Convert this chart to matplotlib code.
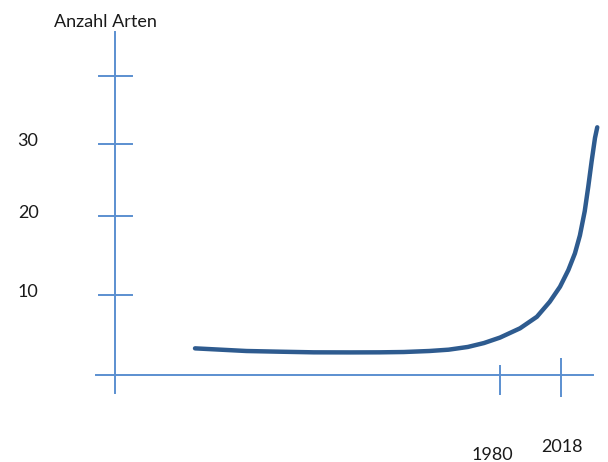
import matplotlib.pyplot as plt

# curve (year, number of species)
years = [1790, 1822, 1843, 1864, 1887, 1905, 1920, 1936, 1948, 1960, 1970, 1980, 1992.5, 2003,
         2011, 2017.4, 2022.6, 2026.7, 2029.8, 2032.8, 2035, 2037.1, 2039.2, 2040.6]
species = [3.42, 3.08, 2.99, 2.91, 2.9, 2.91, 2.95, 3.08, 3.25, 3.6, 4.1, 4.8, 5.99, 7.47,
           9.39, 11.32, 13.46, 15.6, 17.9, 21.0, 24.14, 27.4, 30.4, 31.76]

y_ticks = [10.3, 20.4, 29.6, 38.3]
y_labels = ["10", "20", "30", ""]
x_ticks = [1980, 2018]
x_labels = ["1980", "2018"]

axis_color = "#5b8fd0"
line_color = "#2e5b8f"
text_color = "#1a1a1a"
plt.rcParams["font.family"] = ["Lato", "DejaVu Sans"]

fig = plt.figure(figsize=(6.08, 4.62), dpi=100)
ax = fig.add_axes([0, 0, 1, 1])
ax.set_xlim(1668.5, 2047.3)
ax.set_ylim(-11.15, 48.08)
ax.axis("off")

# hand-drawn style axes
ax.plot([1728, 2038], [0, 0], color=axis_color, lw=1.4)
ax.plot([1740, 1740], [-2.3, 44], color=axis_color, lw=1.4)
for t, lab in zip(y_ticks, y_labels):
    ax.plot([1730, 1751], [t, t], color=axis_color, lw=1.4)
    if lab:
        ax.text(1686, t + 0.4, lab, ha="center", va="center", fontsize=13, color=text_color)
ax.vlines(x_ticks[0], -2.6, 1.3, color=axis_color, lw=1.4)
ax.vlines(x_ticks[1], -2.8, 2.2, color=axis_color, lw=1.4)
ax.text(1975, -10.3, x_labels[0], ha="center", va="center", fontsize=13, color=text_color)
ax.text(2018.6, -9.2, x_labels[1], ha="center", va="center", fontsize=13, color=text_color)
ax.text(1734, 45.2, "Anzahl Arten", ha="center", va="center", fontsize=13, color=text_color)

ax.plot(years, species, color=line_color, lw=3.2, solid_capstyle="round", solid_joinstyle="round")

fig.savefig("out.png", dpi=100)
